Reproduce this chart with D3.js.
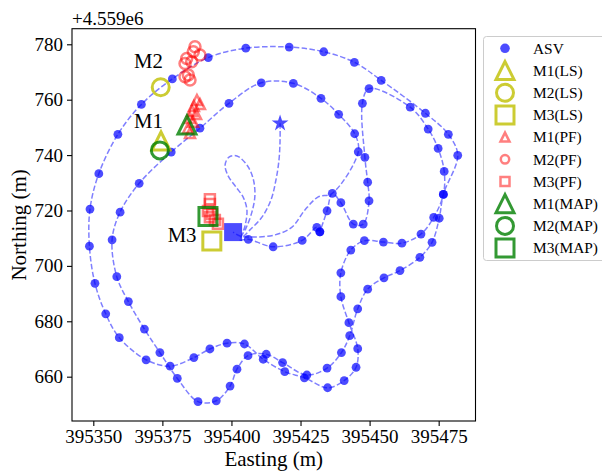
<!DOCTYPE html>
<html>
<head>
<meta charset="utf-8">
<script src="https://cdn.jsdelivr.net/npm/d3@7"></script>
<style>
  body { margin: 0; background: #fff; }
  text { font-family: "Liberation Serif", "Times New Roman", serif; fill: #000; }
</style>
</head>
<body>
<div id="svg-container-1"></div>
<script>
var w = 602;
var h = 471;

//northing values are stored relative to this offset
var northOffset = "+4.559e6";

var xTicks = [395350, 395375, 395400, 395425, 395450, 395475];
var yTicks = [660, 680, 700, 720, 740, 760, 780];

//path from the start star, down into the tangle and round the small loop (no dots)
var preE = [395417.6, 395417.6, 395417.2, 395416.1, 395414.3, 395411.1, 395406.7, 395403.5,
    395404.9, 395405.6, 395404.2, 395401.6, 395398.8, 395397.7, 395399.1, 395402.0,
    395405.6, 395407.8, 395408.5, 395407.4, 395405.3, 395403.1];
var preN = [751.5, 745.5, 738.2, 731.0, 723.8, 717.7, 713.0, 710.1,
    714.4, 720.2, 724.9, 728.5, 732.5, 736.4, 739.3, 739.7,
    736.4, 731.7, 725.6, 719.4, 713.7, 709.4];

//ASV positions (dots), in order of travel
var asvE = [395406.1, 395415.1, 395425.6, 395430.9, 395432.0, 395432.0, 395434.6, 395436.5, 395439.6, 395444.1,
    395447.7, 395449.8, 395449.3, 395448.3, 395447.4, 395449.8, 395464.7, 395471.2, 395474.8, 395477.0,
    395476.7, 395473.2, 395468.6, 395461.7, 395455.0, 395448.1, 395443.2, 395439.6, 395439.6, 395442.5,
    395445.7, 395445.1, 395440.8, 395434.8, 395426.4, 395419.3, 395411.5, 395404.7, 395398.4, 395392.2,
    395386.4, 395377.8, 395369.1, 395359.4, 395354.5, 395350.6, 395348.6, 395348.8, 395352.0, 395358.9,
    395367.4, 395378.6, 395391.6, 395405.2, 395420.9, 395433.4, 395444.5, 395454.2, 395470.2, 395478.5,
    395481.9, 395476.7, 395475.2, 395472.6, 395468.2, 395461.0, 395455.2, 395449.3, 395445.7, 395442.8,
    395439.8, 395434.6, 395427.3, 395418.5, 395412.6, 395406.0, 395402.0, 395399.5, 395394.5, 395387.9,
    395380.4, 395374.1, 395368.5, 395362.7, 395358.5, 395356.8, 395359.7, 395366.6, 395378.2, 395388.6,
    395399.1, 395410.8, 395422.4, 395432.4, 395438.8, 395444.6, 395445.9];
var asvN = [709.6, 706.9, 709.2, 713.9, 712.3, 712.3, 719.9, 726.2, 722.8, 715.1,
    715.1, 723.5, 730.2, 739.2, 758.7, 764.0, 757.3, 749.4, 742.4, 734.1,
    725.8, 717.5, 711.5, 708.2, 708.6, 709.1, 705.7, 697.5, 688.9, 679.5,
    670.1, 663.4, 658.6, 656.0, 659.6, 661.8, 666.3, 671.8, 672.1, 670.0,
    666.9, 663.8, 666.1, 674.1, 682.7, 693.7, 707.1, 720.5, 733.3, 747.5,
    758.3, 767.5, 775.2, 778.6, 779.0, 777.3, 773.5, 767.0, 755.1, 747.5,
    739.9, 725.8, 717.2, 708.5, 703.1, 698.3, 695.7, 691.6, 684.5, 674.8,
    668.7, 663.1, 660.6, 665.1, 668.1, 667.6, 662.7, 656.6, 651.3, 651.0,
    659.4, 668.7, 677.2, 687.1, 696.1, 709.4, 719.4, 729.8, 741.1, 749.7,
    758.7, 766.1, 765.9, 760.5, 754.7, 747.7, 741.2];

//last stretch back to the end square (no dots)
var endE = [395436.5, 395431.4, 395426.6, 395421.8, 395415.8, 395408.5, 395403.1, 395400.6];
var endN = [726.2, 724.9, 720.2, 713.9, 711.2, 710.4, 710.8, 712.2];

var startPos = [395417.6, 751.5];
var endPos = [395400.6, 712.2];

//landmark estimates M1, M2, M3
var lsE = [395374.5, 395374.4, 395392.9];
var lsN = [745.1, 764.5, 709.0];
var mapE = [395383.9, 395374.1, 395391.5];
var mapN = [750.9, 741.7, 717.8];

//particle filter estimates
var pfM1E = [395387.5, 395388.6, 395386.4, 395385.7, 395387.2, 395385.0, 395386.1, 395384.3, 395385.0];
var pfM1N = [759.9, 758.4, 757.7, 755.9, 754.8, 753.4, 752.0, 749.8, 748.0];
var pfM2E = [395386.8, 395386.2, 395388.6, 395383.8, 395383.2, 395385.6, 395384.4, 395385.0, 395383.2];
var pfM2N = [779.1, 777.3, 776.1, 774.9, 773.1, 773.7, 768.9, 767.1, 768.3];
var pfM3E = [395392.2, 395392.2, 395391.5, 395393.0, 395394.0, 395395.1, 395392.2];
var pfM3N = [724.1, 722.3, 719.8, 718.7, 716.6, 715.2, 717.6];

//text labels next to the landmarks
var annoText = ["M2", "M1", "M3"];
var annoE = [395364.7, 395364.7, 395376.9];
var annoN = [771.3, 749.7, 708.6];

var legendLabels = ["ASV", "M1(LS)", "M2(LS)", "M3(LS)", "M1(PF)", "M2(PF)", "M3(PF)", "M1(MAP)", "M2(MAP)", "M3(MAP)"];

var blue = "#0000ff";
var lsColor = "#bfbf00";
var pfColor = "#ff0000";
var mapColor = "#008000";

var plotLeft = 72, plotRight = 475.5, plotTop = 28.7, plotBottom = 421;

var x = d3.scaleLinear().domain([395342.29, 395488.33]).range([plotLeft, plotRight]);
var y = d3.scaleLinear().domain([644.0, 785.63]).range([plotBottom, plotTop]);

var svg = d3.select("#svg-container-1")
    .append("svg")
    .attr("width", w)
    .attr("height", h);

svg.append("defs").append("clipPath").attr("id", "plot-clip")
    .append("rect")
    .attr("x", plotLeft).attr("y", plotTop)
    .attr("width", plotRight - plotLeft).attr("height", plotBottom - plotTop);

var plot = svg.append("g").attr("clip-path", "url(#plot-clip)");

//marker shapes, centred on 0,0
function markerPath(shape, half) {
    if (shape == "tri") {
        return "M0," + (-half) + "L" + (-half) + "," + half + "L" + half + "," + half + "Z";
    }
    return "M" + (-half) + "," + (-half) + "H" + half + "V" + half + "H" + (-half) + "Z";
}

function drawMarker(g, shape, half, color, opacity, lw) {
    if (shape == "circ") {
        return g.append("circle").attr("r", half)
            .style("fill", "none").style("stroke", color)
            .style("stroke-opacity", opacity).style("stroke-width", lw);
    }
    return g.append("path").attr("d", markerPath(shape, half))
        .style("fill", "none").style("stroke", color)
        .style("stroke-opacity", opacity).style("stroke-width", lw)
        .style("stroke-linejoin", "miter");
}

//dashed track
var track = [];
preE.forEach(function (e, i) { track.push([e, preN[i]]); });
asvE.forEach(function (e, i) { track.push([e, asvN[i]]); });
endE.forEach(function (e, i) { track.push([e, endN[i]]); });

var line = d3.line()
    .x(function (d) { return x(d[0]); })
    .y(function (d) { return y(d[1]); })
    .curve(d3.curveCatmullRom.alpha(0.5));

plot.append("path")
    .datum(track)
    .attr("d", line)
    .style("fill", "none")
    .style("stroke", blue)
    .style("stroke-opacity", 0.5)
    .style("stroke-width", 1.5)
    .style("stroke-dasharray", "5.5,2.4");

//ASV dots
plot.selectAll(".asv")
    .data(asvE)
    .enter()
    .append("circle")
    .attr("class", "asv")
    .attr("cx", function (d) { return x(d); })
    .attr("cy", function (d, i) { return y(asvN[i]); })
    .attr("r", 4.4)
    .style("fill", blue)
    .style("fill-opacity", 0.7);

//start star and end square
plot.append("path")
    .attr("d", d3.symbol().type(d3.symbolStar).size(88)())
    .attr("transform", "translate(" + x(startPos[0]) + "," + y(startPos[1]) + ")")
    .style("fill", blue).style("fill-opacity", 0.7);

plot.append("rect")
    .attr("x", x(endPos[0]) - 9).attr("y", y(endPos[1]) - 9)
    .attr("width", 18).attr("height", 18)
    .style("fill", blue).style("fill-opacity", 0.7);

var shapes = ["tri", "circ", "sq"];

//least squares estimates
lsE.forEach(function (e, i) {
    var g = plot.append("g").attr("transform", "translate(" + x(e) + "," + y(lsN[i]) + ")");
    drawMarker(g, shapes[i], shapes[i] == "circ" ? 8.5 : 9, lsColor, 0.8, 3);
});

//particle filter estimates
[[pfM1E, pfM1N], [pfM2E, pfM2N], [pfM3E, pfM3N]].forEach(function (pf, k) {
    pf[0].forEach(function (e, i) {
        var g = plot.append("g").attr("transform", "translate(" + x(e) + "," + y(pf[1][i]) + ")");
        drawMarker(g, shapes[k], k == 1 ? 5.5 : 5, pfColor, 0.5, 2.5);
    });
});

//MAP estimates
mapE.forEach(function (e, i) {
    var g = plot.append("g").attr("transform", "translate(" + x(e) + "," + y(mapN[i]) + ")");
    drawMarker(g, shapes[i], shapes[i] == "circ" ? 8.5 : 9, mapColor, 0.8, 3);
});

//landmark names
svg.selectAll(".anno")
    .data(annoText)
    .enter()
    .append("text")
    .attr("class", "anno")
    .attr("x", function (d, i) { return x(annoE[i]); })
    .attr("y", function (d, i) { return y(annoN[i]); })
    .style("font-size", "20.8px")
    .text(function (d) { return d; });

//frame
svg.append("rect")
    .attr("x", plotLeft).attr("y", plotTop)
    .attr("width", plotRight - plotLeft).attr("height", plotBottom - plotTop)
    .style("fill", "none").style("stroke", "#000").style("stroke-width", 1.1);

//axes
var xAxis = svg.append("g")
    .attr("transform", "translate(0," + plotBottom + ")")
    .call(d3.axisBottom(x).tickValues(xTicks).tickSize(5).tickPadding(4).tickFormat(d3.format("d")));
var yAxis = svg.append("g")
    .attr("transform", "translate(" + plotLeft + ",0)")
    .call(d3.axisLeft(y).tickValues(yTicks).tickSize(5).tickPadding(4).tickFormat(d3.format("d")));

[xAxis, yAxis].forEach(function (a) {
    a.attr("font-family", null).attr("font-size", null);
    a.select(".domain").remove();
    a.selectAll("line").style("stroke", "#000").style("stroke-width", 1.1);
    a.selectAll("text")
        .style("font-family", "'Liberation Serif', 'Times New Roman', serif")
        .style("font-size", "19px")
        .style("fill", "#000");
});

svg.append("text")
    .attr("x", plotLeft)
    .attr("y", 24.5)
    .style("font-size", "19px")
    .text(northOffset);

svg.append("text")
    .attr("x", (plotLeft + plotRight) / 2)
    .attr("y", 466)
    .attr("text-anchor", "middle")
    .style("font-size", "21px")
    .text("Easting (m)");

svg.append("text")
    .attr("transform", "translate(25.5," + ((plotTop + plotBottom) / 2) + ") rotate(-90)")
    .attr("text-anchor", "middle")
    .style("font-size", "21px")
    .text("Northing (m)");

//legend
var legend = svg.append("g");
legend.append("rect")
    .attr("x", 483.5).attr("y", 36.5)
    .attr("width", 130).attr("height", 224)
    .attr("rx", 3)
    .style("fill", "#fff").style("stroke", "#cccccc").style("stroke-width", 1);

var legendStyle = [
    {shape: "dot"},
    {shape: "tri", color: lsColor, op: 0.8, lw: 3, half: 9},
    {shape: "circ", color: lsColor, op: 0.8, lw: 3, half: 8.5},
    {shape: "sq", color: lsColor, op: 0.8, lw: 3, half: 9},
    {shape: "tri", color: pfColor, op: 0.5, lw: 2.5, half: 4.5},
    {shape: "circ", color: pfColor, op: 0.5, lw: 2.5, half: 4.2},
    {shape: "sq", color: pfColor, op: 0.5, lw: 2.5, half: 4.5},
    {shape: "tri", color: mapColor, op: 0.8, lw: 3, half: 9},
    {shape: "circ", color: mapColor, op: 0.8, lw: 3, half: 8.5},
    {shape: "sq", color: mapColor, op: 0.8, lw: 3, half: 9}
];

legendLabels.forEach(function (lab, i) {
    var ly = 48.3 + i * 22.2;
    var g = legend.append("g").attr("transform", "translate(505," + ly + ")");
    var st = legendStyle[i];
    if (st.shape == "dot") {
        g.append("circle").attr("r", 4.8).style("fill", blue).style("fill-opacity", 0.7);
    } else {
        drawMarker(g, st.shape, st.half, st.color, st.op, st.lw);
    }
    legend.append("text")
        .attr("x", 533)
        .attr("y", ly)
        .attr("dy", "0.35em")
        .style("font-size", "15.4px")
        .text(lab);
});
</script>
</body>
</html>
